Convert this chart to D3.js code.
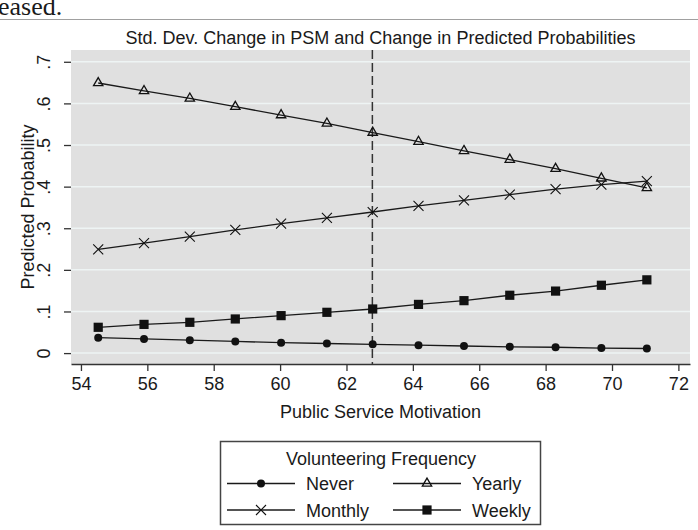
<!DOCTYPE html>
<html>
<head>
<meta charset="utf-8">
<script src="https://cdn.jsdelivr.net/npm/d3@7"></script>
<style>
  body { margin: 0; background: #fff; }
  svg { display: block; }
  text { font-family: "Liberation Sans", Arial, sans-serif; fill: #1a1a1a; }
</style>
</head>
<body>
<div id="chart"></div>
<script>
const width = 698;
const height = 530;

// PSM values at which probabilities were predicted
const psm = [54.52, 55.90, 57.28, 58.65, 60.03, 61.41, 62.79, 64.17, 65.54, 66.92, 68.30, 69.68, 71.05];
const never   = [0.037, 0.034, 0.031, 0.028, 0.025, 0.023, 0.021, 0.019, 0.017, 0.015, 0.014, 0.012, 0.011];
const monthly = [0.249, 0.264, 0.280, 0.296, 0.311, 0.325, 0.339, 0.354, 0.367, 0.381, 0.394, 0.405, 0.413];
const yearly  = [0.649, 0.630, 0.612, 0.592, 0.572, 0.552, 0.530, 0.508, 0.486, 0.465, 0.443, 0.420, 0.397];
const weekly  = [0.062, 0.069, 0.074, 0.082, 0.090, 0.098, 0.106, 0.117, 0.126, 0.139, 0.149, 0.163, 0.176];
const meanPSM = 62.78;

const xTicks = [54, 56, 58, 60, 62, 64, 66, 68, 70, 72];
const yTicks = [0, 0.1, 0.2, 0.3, 0.4, 0.5, 0.6, 0.7];

const series = [
  { name: 'Never', values: never, marker: 'circle' },
  { name: 'Monthly', values: monthly, marker: 'cross' },
  { name: 'Yearly', values: yearly, marker: 'triangle' },
  { name: 'Weekly', values: weekly, marker: 'square' }
];

const plot = { left: 71, right: 690, top: 50, bottom: 364 };

const svg = d3.select('#chart')
  .append('svg')
  .attr('width', width)
  .attr('height', height);

// bit of the surrounding document that was caught in the screenshot
svg.append('text')
  .attr('x', -2)
  .attr('y', 15)
  .style('font-family', '"Liberation Serif", "Times New Roman", serif')
  .style('font-size', '26px')
  .text('eased.');
svg.append('line')
  .attr('x1', 0).attr('x2', width)
  .attr('y1', 19.5).attr('y2', 19.5)
  .attr('stroke', '#a0a0a0')
  .attr('stroke-width', 1);

const x = d3.scaleLinear().domain([53.7, 72.35]).range([plot.left, plot.right]);
const y = d3.scaleLinear().domain([-0.0262, 0.7283]).range([plot.bottom, plot.top]);

// plot background
svg.append('rect')
  .attr('x', plot.left)
  .attr('y', plot.top)
  .attr('width', plot.right - plot.left)
  .attr('height', plot.bottom - plot.top)
  .attr('fill', '#e0e0e0');

// gridlines
svg.append('g')
  .selectAll('line')
  .data(yTicks)
  .join('line')
  .attr('x1', plot.left)
  .attr('x2', plot.right)
  .attr('y1', d => y(d))
  .attr('y2', d => y(d))
  .attr('stroke', '#eef4f4')
  .attr('stroke-width', 1.5);

// title
svg.append('text')
  .attr('x', (plot.left + plot.right) / 2)
  .attr('y', 44)
  .attr('text-anchor', 'middle')
  .style('font-size', '18px')
  .text('Std. Dev. Change in PSM and Change in Predicted Probabilities');

// x axis
const xAxis = svg.append('g')
  .attr('transform', `translate(0, ${plot.bottom})`)
  .call(d3.axisBottom(x).tickValues(xTicks).tickSize(7).tickSizeOuter(0).tickPadding(6));
xAxis.select('.domain').attr('stroke', '#333').attr('stroke-width', 1.5);
xAxis.selectAll('.tick line').attr('stroke', '#333').attr('stroke-width', 1.3);
xAxis.selectAll('.tick text')
  .style('font-size', '18px')
  .style('font-family', '"Liberation Sans", Arial, sans-serif')
  .attr('fill', '#1a1a1a');

svg.append('text')
  .attr('x', (plot.left + plot.right) / 2)
  .attr('y', 418)
  .attr('text-anchor', 'middle')
  .style('font-size', '18px')
  .text('Public Service Motivation');

// y axis
const yFmt = d => d === 0 ? '0' : d3.format('.1f')(d).replace(/^0/, '');
const yAxis = svg.append('g')
  .attr('transform', `translate(${plot.left}, 0)`)
  .call(d3.axisLeft(y).tickValues(yTicks).tickSize(7).tickFormat(yFmt));
yAxis.select('.domain').remove();
yAxis.selectAll('.tick line').attr('stroke', '#333').attr('stroke-width', 1.3);
yAxis.selectAll('.tick text')
  .attr('transform', 'rotate(-90)')
  .attr('x', 0)
  .attr('y', -21)
  .attr('dy', 0)
  .attr('text-anchor', 'middle')
  .style('font-size', '18px')
  .style('font-family', '"Liberation Sans", Arial, sans-serif')
  .attr('fill', '#1a1a1a');

svg.append('text')
  .attr('transform', `translate(34, ${(plot.top + plot.bottom) / 2}) rotate(-90)`)
  .attr('text-anchor', 'middle')
  .style('font-size', '18px')
  .text('Predicted Probability');

// mean line
svg.append('line')
  .attr('x1', x(meanPSM)).attr('x2', x(meanPSM))
  .attr('y1', plot.top).attr('y2', plot.bottom)
  .attr('stroke', '#333')
  .attr('stroke-width', 1.5)
  .attr('stroke-dasharray', '9,4');

// markers
function drawMarker(g, type) {
  if (type === 'circle') {
    g.append('circle').attr('r', 4).attr('fill', '#111');
  } else if (type === 'square') {
    g.append('rect').attr('x', -4.6).attr('y', -4.6).attr('width', 9.2).attr('height', 9.2).attr('fill', '#111');
  } else if (type === 'triangle') {
    g.append('path')
      .attr('d', d3.symbol(d3.symbolTriangle, 38)())
      .attr('fill', 'none')
      .attr('stroke', '#111')
      .attr('stroke-width', 1.3);
  } else {
    g.append('path')
      .attr('d', 'M-5,-5L5,5M-5,5L5,-5')
      .attr('stroke', '#111')
      .attr('stroke-width', 1.1);
  }
}

const line = d3.line()
  .x((d, i) => x(psm[i]))
  .y(d => y(d));

const lines = svg.append('g');
series.forEach(s => {
  lines.append('path')
    .datum(s.values)
    .attr('d', line)
    .attr('fill', 'none')
    .attr('stroke', '#1a1a1a')
    .attr('stroke-width', 1.3);
});

series.forEach(s => {
  svg.append('g')
    .selectAll('g')
    .data(s.values)
    .join('g')
    .attr('transform', (d, i) => `translate(${x(psm[i])}, ${y(d)})`)
    .each(function () { drawMarker(d3.select(this), s.marker); });
});

// legend
const legend = svg.append('g');
legend.append('rect')
  .attr('x', 220.5).attr('y', 441.5)
  .attr('width', 320).attr('height', 83)
  .attr('fill', '#fff')
  .attr('stroke', '#444')
  .attr('stroke-width', 1.5);
legend.append('text')
  .attr('x', 381)
  .attr('y', 465)
  .attr('text-anchor', 'middle')
  .style('font-size', '18px')
  .text('Volunteering Frequency');

const legendOrder = ['Never', 'Yearly', 'Monthly', 'Weekly'];
legendOrder.forEach((name, i) => {
  const s = series.find(d => d.name === name);
  const col = i % 2;
  const row = Math.floor(i / 2);
  const x0 = 227 + col * 166;
  const yy = 483.5 + row * 26.5;
  legend.append('line')
    .attr('x1', x0).attr('x2', x0 + 68)
    .attr('y1', yy).attr('y2', yy)
    .attr('stroke', '#1a1a1a')
    .attr('stroke-width', 1.3);
  const m = legend.append('g').attr('transform', `translate(${x0 + 34}, ${yy})`);
  drawMarker(m, s.marker);
  legend.append('text')
    .attr('x', x0 + 79)
    .attr('y', yy + 6.5)
    .style('font-size', '18px')
    .text(name);
});
</script>
</body>
</html>
